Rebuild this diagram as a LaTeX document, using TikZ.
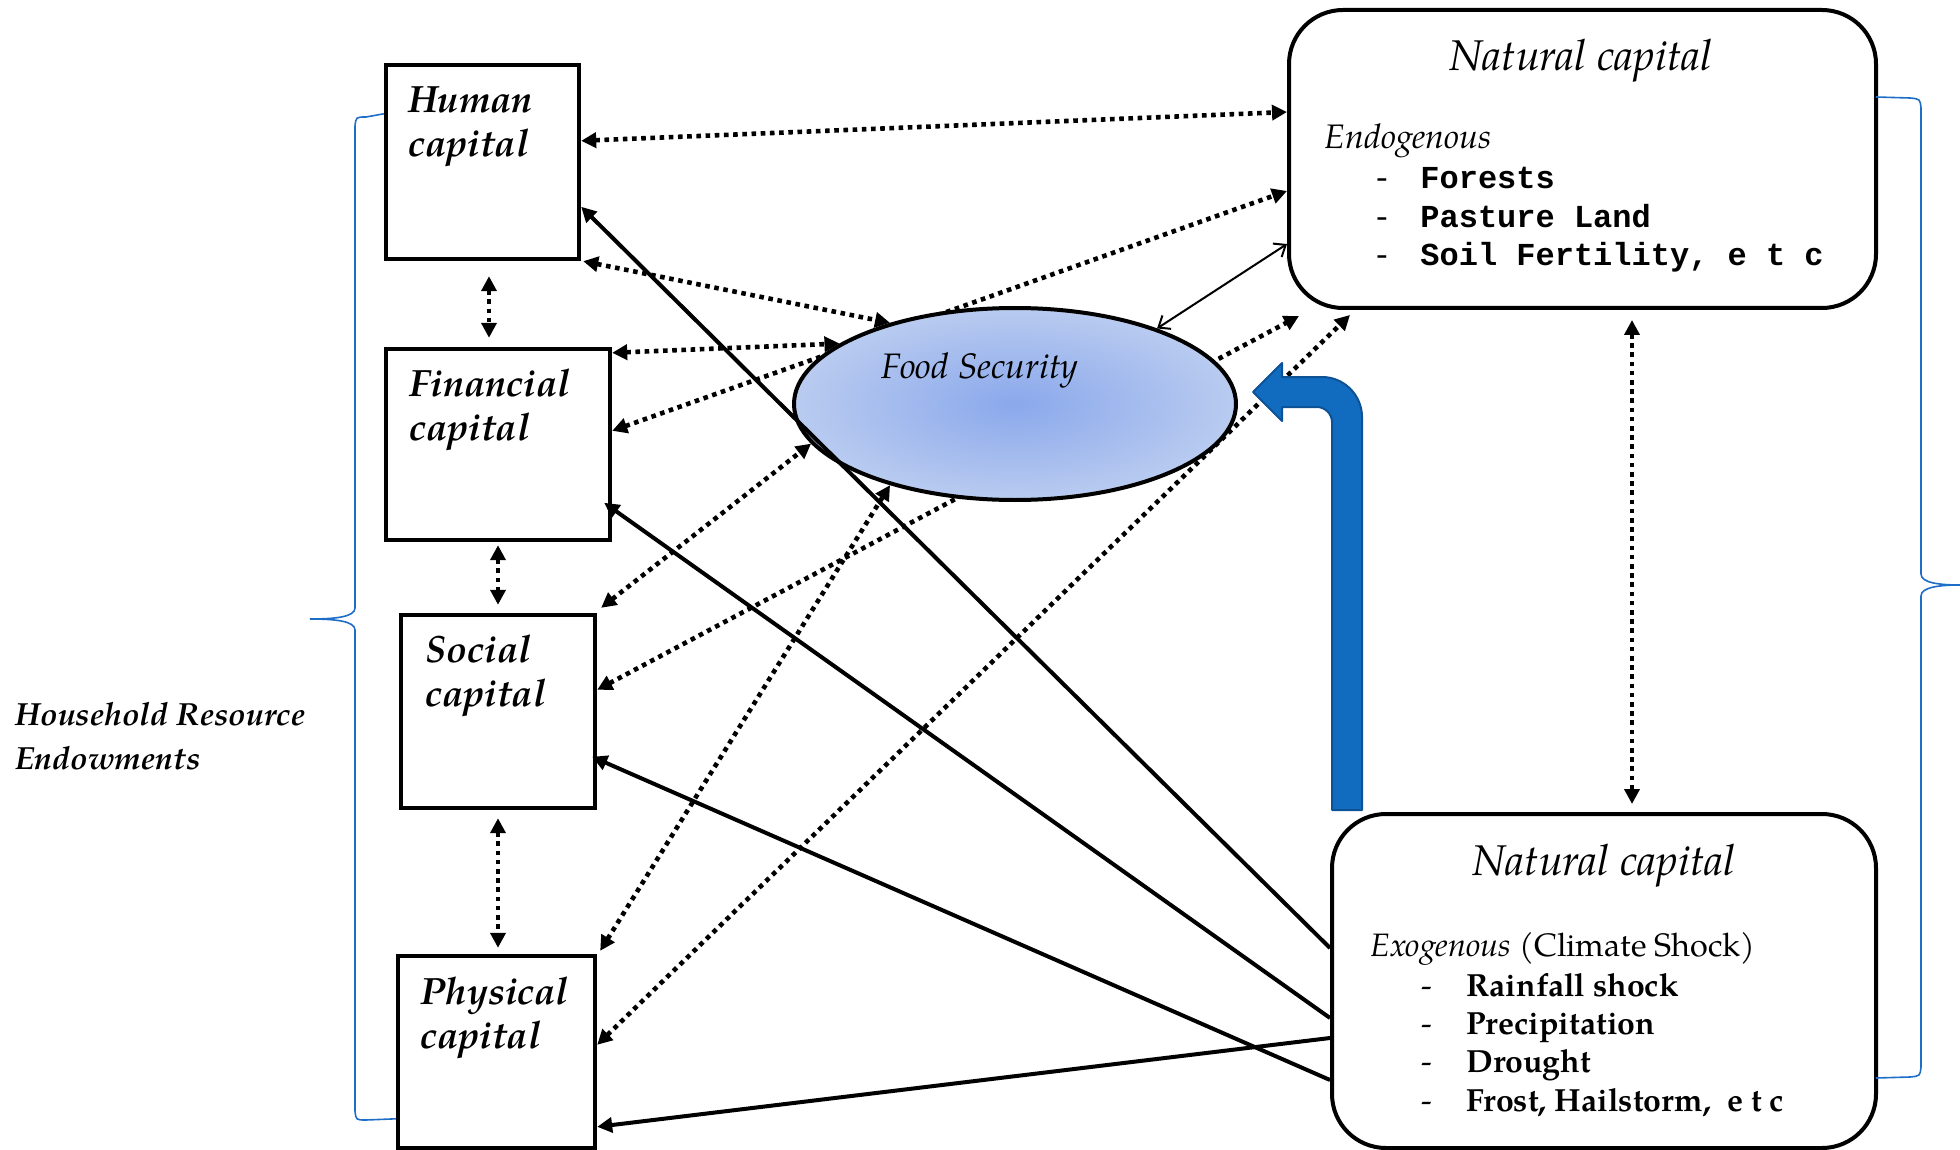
\documentclass[tikz,border=0pt]{standalone}
\usepackage{fontspec}
\setmainfont{texgyrepagella}[Extension=.otf,UprightFont=*-regular,BoldFont=*-bold,ItalicFont=*-italic,BoldItalicFont=*-bolditalic]
\setmonofont{Liberation Mono}
\usetikzlibrary{arrows.meta,calc,shapes.geometric}
\definecolor{fsin}{RGB}{138,168,235}
\definecolor{fsmid}{RGB}{185,203,240}
\definecolor{fsout}{RGB}{224,231,247}
\definecolor{bluefill}{RGB}{17,108,192}
\definecolor{blueedge}{RGB}{14,82,150}
\definecolor{bracecol}{RGB}{30,110,200}
\pgfdeclareradialshading{fsshade}{\pgfpoint{0bp}{0bp}}{color(0bp)=(fsin); color(25bp)=(fsmid); color(50bp)=(fsout); color(100bp)=(fsout)}
\begin{document}
\begin{tikzpicture}[x=0.5pt,y=-0.5pt,
  capbox/.style={draw, line width=2.2pt, inner sep=0pt},
  natbox/.style={draw, line width=2pt, rounded corners=27pt, inner sep=0pt},
  captext/.style={anchor=base west, align=left, inner sep=0pt, font=\fontsize{19}{22}\selectfont\bfseries\itshape},
  titletext/.style={anchor=base, inner sep=0pt, font=\fontsize{21.5}{24}\selectfont\itshape},
  subtext/.style={anchor=base west, inner sep=0pt, font=\fontsize{16.2}{18}\selectfont},
  monoitem/.style={anchor=base west, inner sep=0pt, font=\fontsize{16}{18}\selectfont\ttfamily\bfseries},
  bolditem/.style={anchor=base west, inner sep=0pt, font=\fontsize{16}{19}\selectfont\bfseries},
  dotarr/.style={line width=2.3pt, dash pattern=on 2.3pt off 2.3pt, {Triangle[length=7.5pt,width=7.5pt]}-{Triangle[length=7.5pt,width=7.5pt]}},
  solarr/.style={line width=2pt, -{Triangle[length=7.5pt,width=7.5pt]}},
  thinarr/.style={line width=1pt, {Straight Barb[length=5pt,width=8pt]}-{Straight Barb[length=5pt,width=8pt]}},
  bracepath/.style={draw=bracecol, line width=0.8pt}
]
\useasboundingbox (0,0) rectangle (1960,1150);

% boxes
\node[capbox, minimum width=96.5pt, minimum height=97pt] (hum) at (482.5,162) {};
\node[capbox, minimum width=112pt, minimum height=95.5pt] (fin) at (498,444.5) {};
\node[capbox, minimum width=97pt, minimum height=96.5pt] (soc) at (498,711.5) {};
\node[capbox, minimum width=98.5pt, minimum height=96pt] (phy) at (496.5,1052) {};
\node[natbox, minimum width=293.5pt, minimum height=149pt] (nt) at (1582.5,159) {};
\node[natbox, minimum width=272pt, minimum height=167pt] (nb) at (1604,981) {};

% box texts (base = last line)
\node[captext] (humt) at (408,157) {Human\\capital};
\node[captext] (fint) at (409,440) {Financial\\capital};
\node[captext] (soct) at (425,706) {Social\\capital};
\node[captext] (phyt) at (420,1048) {Physical\\capital};

\node[titletext] (ntt) at (1581,71) {Natural capital};
\node[subtext, font=\fontsize{17}{18}\selectfont] (ntsub) at (1324,149) {\itshape Endogenous};
\node[monoitem] (nt1) at (1372,189) {\makebox[24pt][l]{\mdseries -}Forests};
\node[monoitem] (nt2) at (1372,228) {\makebox[24pt][l]{\mdseries -}Pasture Land};
\node[monoitem] (nt3) at (1372,266) {\makebox[24pt][l]{\mdseries -}Soil Fertility, e t c};

\node[titletext] (nbt) at (1604,875) {Natural capital};
\node[subtext] (nbsub) at (1370,956) {\itshape Exogenous\upshape{} (Climate Shock)};
\node[bolditem] (nb1) at (1421,996) {\makebox[22.5pt][l]{\mdseries -}Rainfall shock};
\node[bolditem] (nb2) at (1421,1034) {\makebox[22.5pt][l]{\mdseries -}Precipitation};
\node[bolditem] (nb3) at (1421,1072) {\makebox[22.5pt][l]{\mdseries -}Drought};
\node[bolditem] (nb4) at (1421,1111) {\makebox[22.5pt][l]{\mdseries -}Frost, Hailstorm,\ \ e t c};

\node[anchor=base west, align=left, inner sep=0pt, font=\fontsize{16}{22}\selectfont\bfseries\itshape] (hre) at (15,769) {Household Resource\\Endowments};

% braces
\path[bracepath] ([yshift=-25.5pt]hum.north west) -- (366,117) .. controls (356,117) .. (355,126) -- (355,608)
  .. controls (355,617) and (335,619) .. (310,619) .. controls (335,619) and (355,621) .. (355,630)
  -- (355,1111) .. controls (356,1120) .. (366,1120) -- ([yshift=-82.5pt]phy.north west);
\path[bracepath] (1876,97) -- (1910,98) .. controls (1920,99) .. (1921,108) -- (1921,574)
  .. controls (1921,583) and (1940,585) .. (1960,585) .. controls (1940,585) and (1921,587) .. (1921,596)
  -- (1921,1067) .. controls (1920,1076) .. (1910,1077) -- (1876,1078);

% lines passing behind the ellipse
\draw[dotarr] ([yshift=-42pt]fin.north east) -- ([yshift=-91.5pt]nt.north west);
\draw[dotarr] ([yshift=-38.5pt]soc.north east) -- ([xshift=6pt,yshift=-3pt]nt.south west);
\draw[dotarr] ([yshift=-45.5pt]phy.north east) -- ([xshift=31.5pt,yshift=-2.5pt]nt.south west);

% ellipse
\node[ellipse, draw, line width=2pt, minimum width=221pt, minimum height=96pt, inner sep=0pt, shading=fsshade] (fs) at (1015,404) {};
\node[anchor=base west, inner sep=0pt, font=\fontsize{17.7}{20}\selectfont\itshape] (fst) at (881,379) {Food Security};

% dotted connectors
\draw[dotarr] ([yshift=-39pt]hum.north east) -- ([yshift=-52pt]nt.north west);
\draw[dotarr] ([xshift=1pt]hum.south east) -- (fs.147);
\draw[dotarr] ([yshift=-3pt]fin.north east) -- (fs.161);
\draw[dotarr] ([xshift=2pt,yshift=2.5pt]soc.north east) -- (fs.191);
\draw[dotarr] ([xshift=1.5pt,yshift=1.5pt]phy.north east) -- (fs.213);
\draw[dotarr] ([xshift=24.75pt,yshift=-5pt]nt.south) -- ([xshift=14pt,yshift=4pt]nb.north);
\draw[dotarr] ([xshift=3.25pt,yshift=-7.5pt]hum.south) -- ([xshift=-4.5pt,yshift=4.5pt]fin.north);
\draw[dotarr] ([yshift=-1.5pt]fin.south) -- ([yshift=4pt]soc.north);
\draw[dotarr] ([yshift=-4pt]soc.south) -- ([xshift=0.75pt,yshift=3pt]phy.north);

% thin double arrow
\draw[thinarr] (fs.28) -- ([yshift=-118pt]nt.north west);

% solid connectors
\draw[solarr] ([yshift=-68pt]nb.north west) -- ([yshift=-72pt]hum.north east);
\draw[solarr] ([yshift=-103pt]nb.north west) -- ([xshift=-4pt,yshift=-78pt]fin.north east);
\draw[solarr] ([yshift=-134pt]nb.north west) -- ([xshift=-2.5pt,yshift=-72pt]soc.north east);
\draw[solarr] ([yshift=-113pt]nb.north west) -- ([yshift=-86.5pt]phy.north east);

% blue bent arrow
\draw[fill=bluefill, draw=blueedge, line width=1pt, line join=round]
  (1362,810) -- (1362,417) .. controls (1362,395) and (1344,377) .. (1322,377)
  -- (1282,377) -- (1282,363) -- (1253,392) -- (1282,421) -- (1282,407) -- (1317,407)
  .. controls (1325,407) and (1332,414) .. (1332,422) -- (1332,810) -- cycle;
\end{tikzpicture}
\end{document}
